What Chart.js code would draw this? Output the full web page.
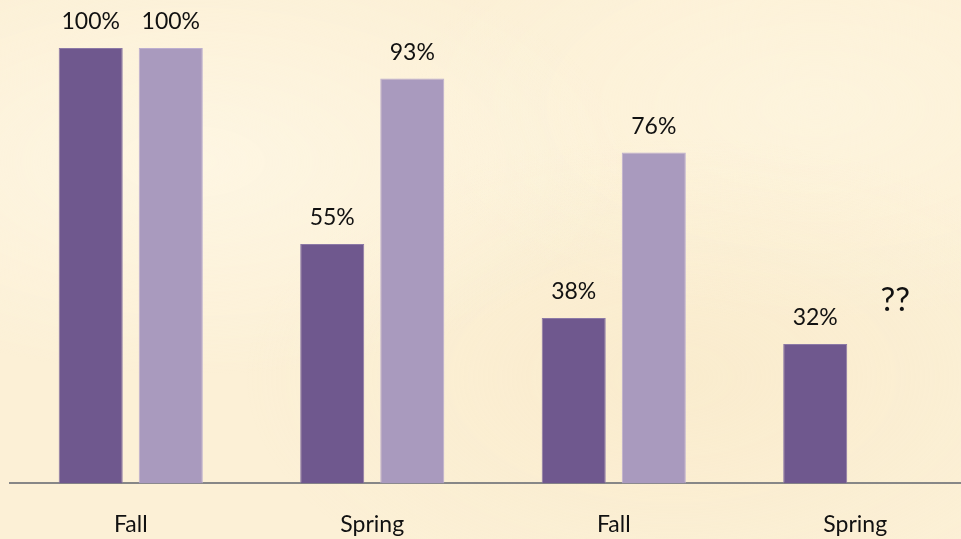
<!DOCTYPE html>
<html>
<head>
<meta charset="utf-8">
<script src="https://cdn.jsdelivr.net/npm/chart.js@4/dist/chart.umd.min.js"></script>
<style>
  html, body { margin: 0; padding: 0; overflow: hidden; }
  body {
    width: 961px; height: 539px;
    background-color: #fcf0d6;
    background-image:
      radial-gradient(ellipse at 20% 30%, rgba(255,250,235,0.6), rgba(255,250,235,0) 40%),
      radial-gradient(ellipse at 70% 70%, rgba(245,228,190,0.35), rgba(245,228,190,0) 45%),
      radial-gradient(ellipse at 85% 20%, rgba(255,248,228,0.5), rgba(255,248,228,0) 35%);
  }
  #wrap { position: absolute; left: 0; top: 0; width: 986px; height: 565px; }
</style>
</head>
<body>
<div id="wrap"><canvas id="grafico"></canvas></div>
<script>
// dados do gráfico
const categorias = ['Fall', 'Spring', 'Fall', 'Spring'];
const serieEscura = [100, 55, 38, 32];
const serieClara = [100, 93, 76, null];
const rotuloFaltando = '??';

const corEscura = '#6f588e';
const corClara = '#a99abe';
const fonte = 'Lato, "Open Sans", sans-serif';

// Rótulos acima das barras
const rotulosPlugin = {
  id: 'rotulos',
  afterDatasetsDraw(chart) {
    const ctx = chart.ctx;
    const y = chart.scales.y;
    ctx.save();
    ctx.fillStyle = '#111';
    ctx.textAlign = 'center';
    ctx.textBaseline = 'middle';
    chart.data.datasets.forEach((ds, di) => {
      const meta = chart.getDatasetMeta(di);
      meta.data.forEach((bar, i) => {
        const v = ds.data[i];
        if (v === null || v === undefined) {
          ctx.font = '33px ' + fonte;
          ctx.fillText(rotuloFaltando, bar.x, y.getPixelForValue(serieEscura[i]) - 44);
        } else {
          ctx.font = '23px ' + fonte;
          ctx.fillText(v + '%', bar.x, y.getPixelForValue(v) - 26);
        }
      });
    });
    ctx.restore();
  }
};

const ctx = document.getElementById('grafico').getContext('2d');
new Chart(ctx, {
  type: 'bar',
  data: {
    labels: categorias,
    datasets: [
      {
        label: 'A',
        data: serieEscura,
        backgroundColor: corEscura,
        borderColor: '#8c79a6',
        borderWidth: 1,
        categoryPercentage: 0.663,
        barPercentage: 0.8
      },
      {
        label: 'B',
        data: serieClara,
        backgroundColor: corClara,
        borderColor: '#bcaecf',
        borderWidth: 1,
        categoryPercentage: 0.663,
        barPercentage: 0.8
      }
    ]
  },
  options: {
    responsive: true,
    maintainAspectRatio: false,
    animation: false,
    layout: { padding: { left: 10, right: 10, top: 48, bottom: 0 } },
    plugins: {
      legend: { display: false },
      tooltip: { enabled: false }
    },
    scales: {
      x: {
        grid: { display: false, drawTicks: false },
        border: { display: true, color: '#878787', width: 2 },
        ticks: {
          color: '#111',
          font: { family: fonte, size: 23 },
          padding: 27
        }
      },
      y: {
        display: false,
        min: 0,
        max: 100
      }
    }
  },
  plugins: [rotulosPlugin]
});
</script>
</body>
</html>
